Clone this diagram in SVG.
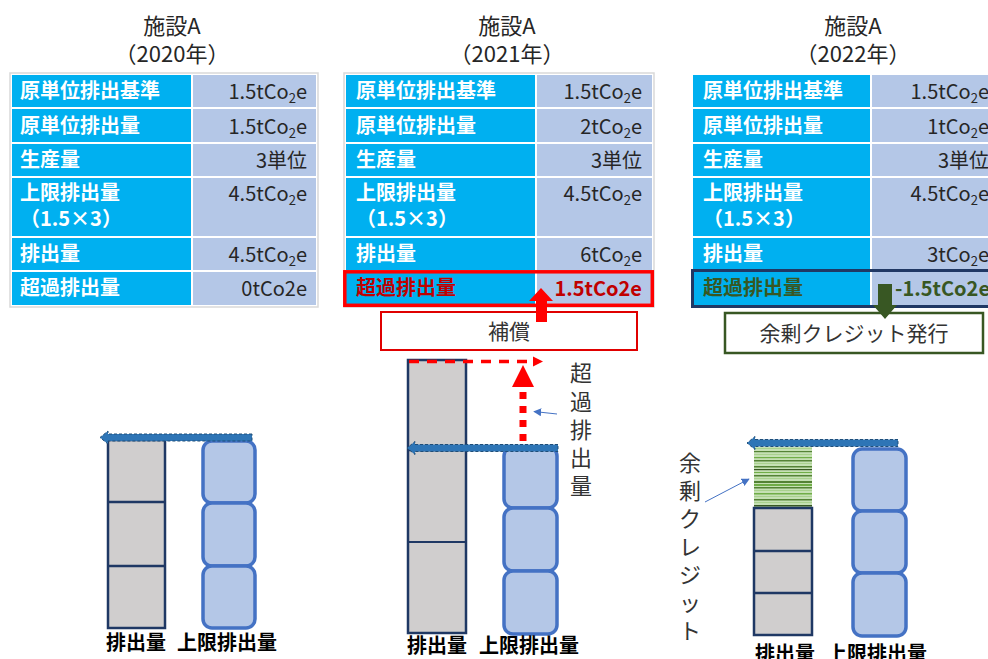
<svg xmlns="http://www.w3.org/2000/svg" width="988" height="659" viewBox="0 0 988 659">
<style>
text{font-family:"Noto Sans CJK JP","Noto Sans",sans-serif}
.ttl{font-size:22px;fill:#262626;text-anchor:middle}
.lbl{font-size:20px;font-weight:bold;fill:#fff}
.val{font-size:20px;fill:#262626;text-anchor:end}
.cL{fill:#00B0F0;stroke:#fff;stroke-width:2}
.cR{fill:#B4C7E7;stroke:#fff;stroke-width:2}
.frame{fill:none;stroke:#D9D9D9;stroke-width:1.5}
.gray{fill:#D0CECE;stroke:#1F3864;stroke-width:2.5}
.blk{fill:#B4C7E7;stroke:#4472C4;stroke-width:3.5}
.bl{font-size:20px;font-weight:bold;fill:#000;text-anchor:middle}
.vt{font-size:22px;fill:#333;text-anchor:middle}
.barr{fill:#2E75B6;stroke:#1F4E79;stroke-width:1;stroke-dasharray:3 2}
.thin{stroke:#4472C4;stroke-width:1;fill:none}
</style>
<defs>
<pattern id="hatch" patternUnits="userSpaceOnUse" width="10" height="61" x="754" y="447">
<rect width="10" height="61" fill="#C5E0B4"/>
<rect y="1" width="10" height="1" fill="#A9D18E"/>
<rect y="4" width="10" height="1.2" fill="#548235"/>
<rect y="7" width="10" height="1" fill="#A9D18E"/>
<rect y="10" width="10" height="1.2" fill="#70AD47"/>
<rect y="13" width="10" height="1.5" fill="#548235"/>
<rect y="16" width="10" height="1" fill="#A9D18E"/>
<rect y="19" width="10" height="1.5" fill="#548235"/>
<rect y="22" width="10" height="1.2" fill="#385723"/>
<rect y="25" width="10" height="1" fill="#70AD47"/>
<rect y="28" width="10" height="1.5" fill="#548235"/>
<rect y="31" width="10" height="1" fill="#A9D18E"/>
<rect y="34" width="10" height="2" fill="#548235"/>
<rect y="37" width="10" height="2" fill="#70AD47"/>
<rect y="40" width="10" height="1.5" fill="#548235"/>
<rect y="43" width="10" height="1" fill="#A9D18E"/>
<rect y="46" width="10" height="1.5" fill="#70AD47"/>
<rect y="49" width="10" height="1" fill="#A9D18E"/>
<rect y="52" width="10" height="1.5" fill="#548235"/>
<rect y="55" width="10" height="1" fill="#A9D18E"/>
<rect y="58" width="10" height="1.5" fill="#385723"/>
</pattern>
<marker id="ah" viewBox="0 0 10 10" refX="9" refY="5" markerWidth="8" markerHeight="8" orient="auto" markerUnits="userSpaceOnUse">
<path d="M0,0 L10,5 L0,10 z" fill="#4472C4"/>
</marker>
</defs>

<g id="table2020">
<text class="ttl" x="172" y="34">施設A</text>
<text class="ttl" x="172" y="62">（2020年）</text>
<rect class="cL" x="11" y="74" width="181" height="34"/><rect class="cR" x="192" y="74" width="125" height="34"/>
<rect class="cL" x="11" y="108" width="181" height="35"/><rect class="cR" x="192" y="108" width="125" height="35"/>
<rect class="cL" x="11" y="143" width="181" height="34"/><rect class="cR" x="192" y="143" width="125" height="34"/>
<rect class="cL" x="11" y="177" width="181" height="60"/><rect class="cR" x="192" y="177" width="125" height="60"/>
<rect class="cL" x="11" y="237" width="181" height="34"/><rect class="cR" x="192" y="237" width="125" height="34"/>
<rect class="cL" x="11" y="271" width="181" height="35"/><rect class="cR" x="192" y="271" width="125" height="35"/>
<rect class="frame" x="10" y="73" width="308" height="234"/>
<text class="lbl" x="20" y="98">原単位排出基準</text>
<text class="lbl" x="20" y="133">原単位排出量</text>
<text class="lbl" x="20" y="167">生産量</text>
<text class="lbl" x="20" y="200">上限排出量</text>
<text class="lbl" x="20" y="226">（1.5×3）</text>
<text class="lbl" x="20" y="261">排出量</text>
<text class="lbl" x="20" y="295">超過排出量</text>
<text class="val" x="307" y="99">1.5tCo<tspan font-size="13" dy="4">2</tspan><tspan dy="-4">e</tspan></text>
<text class="val" x="307" y="134">1.5tCo<tspan font-size="13" dy="4">2</tspan><tspan dy="-4">e</tspan></text>
<text class="val" x="307" y="168">3単位</text>
<text class="val" x="307" y="201">4.5tCo<tspan font-size="13" dy="4">2</tspan><tspan dy="-4">e</tspan></text>
<text class="val" x="307" y="262">4.5tCo<tspan font-size="13" dy="4">2</tspan><tspan dy="-4">e</tspan></text>
<text class="val" x="307" y="296">0tCo2e</text>
</g>

<g id="table2021">
<text class="ttl" x="507" y="34">施設A</text>
<text class="ttl" x="507" y="62">（2021年）</text>
<rect class="cL" x="345" y="74" width="191" height="34"/><rect class="cR" x="536" y="74" width="117" height="34"/>
<rect class="cL" x="345" y="108" width="191" height="35"/><rect class="cR" x="536" y="108" width="117" height="35"/>
<rect class="cL" x="345" y="143" width="191" height="34"/><rect class="cR" x="536" y="143" width="117" height="34"/>
<rect class="cL" x="345" y="177" width="191" height="60"/><rect class="cR" x="536" y="177" width="117" height="60"/>
<rect class="cL" x="345" y="237" width="191" height="34"/><rect class="cR" x="536" y="237" width="117" height="34"/>
<rect class="cL" x="345" y="271" width="191" height="35"/><rect class="cR" x="536" y="271" width="117" height="35"/>
<rect class="frame" x="344" y="73" width="310" height="234"/>
<text class="lbl" x="356" y="98">原単位排出基準</text>
<text class="lbl" x="356" y="133">原単位排出量</text>
<text class="lbl" x="356" y="167">生産量</text>
<text class="lbl" x="356" y="200">上限排出量</text>
<text class="lbl" x="356" y="226">（1.5×3）</text>
<text class="lbl" x="356" y="261">排出量</text>
<text class="lbl" x="356" y="295" style="fill:#C00000">超過排出量</text>
<text class="val" x="642" y="99">1.5tCo<tspan font-size="13" dy="4">2</tspan><tspan dy="-4">e</tspan></text>
<text class="val" x="642" y="134">2tCo<tspan font-size="13" dy="4">2</tspan><tspan dy="-4">e</tspan></text>
<text class="val" x="642" y="168">3単位</text>
<text class="val" x="642" y="201">4.5tCo<tspan font-size="13" dy="4">2</tspan><tspan dy="-4">e</tspan></text>
<text class="val" x="642" y="262">6tCo<tspan font-size="13" dy="4">2</tspan><tspan dy="-4">e</tspan></text>
<text class="val" x="642" y="296" style="fill:#C00000;font-weight:bold">1.5tCo2e</text>
<rect x="344.8" y="271.8" width="307.5" height="33.5" fill="none" stroke="#FF0000" stroke-width="3.5"/>
</g>

<g id="table2022">
<text class="ttl" x="853" y="34">施設A</text>
<text class="ttl" x="853" y="62">（2022年）</text>
<rect class="cL" x="692" y="74" width="179" height="34"/><rect class="cR" x="871" y="74" width="120" height="34"/>
<rect class="cL" x="692" y="108" width="179" height="35"/><rect class="cR" x="871" y="108" width="120" height="35"/>
<rect class="cL" x="692" y="143" width="179" height="34"/><rect class="cR" x="871" y="143" width="120" height="34"/>
<rect class="cL" x="692" y="177" width="179" height="60"/><rect class="cR" x="871" y="177" width="120" height="60"/>
<rect class="cL" x="692" y="237" width="179" height="34"/><rect class="cR" x="871" y="237" width="120" height="34"/>
<rect class="cL" x="692" y="271" width="179" height="35"/><rect class="cR" x="871" y="271" width="120" height="35"/>
<text class="lbl" x="703" y="98">原単位排出基準</text>
<text class="lbl" x="703" y="133">原単位排出量</text>
<text class="lbl" x="703" y="167">生産量</text>
<text class="lbl" x="703" y="200">上限排出量</text>
<text class="lbl" x="703" y="226">（1.5×3）</text>
<text class="lbl" x="703" y="261">排出量</text>
<text class="lbl" x="703" y="295" style="fill:#385723">超過排出量</text>
<text class="val" x="989" y="99">1.5tCo<tspan font-size="13" dy="4">2</tspan><tspan dy="-4">e</tspan></text>
<text class="val" x="989" y="134">1tCo<tspan font-size="13" dy="4">2</tspan><tspan dy="-4">e</tspan></text>
<text class="val" x="989" y="168">3単位</text>
<text class="val" x="989" y="201">4.5tCo<tspan font-size="13" dy="4">2</tspan><tspan dy="-4">e</tspan></text>
<text class="val" x="989" y="262">3tCo<tspan font-size="13" dy="4">2</tspan><tspan dy="-4">e</tspan></text>
<text class="val" x="990" y="296" style="fill:#385723;font-weight:bold">-1.5tCo2e</text>
<rect x="692.5" y="270.5" width="300" height="36" fill="none" stroke="#203864" stroke-width="3"/>
</g>

<g id="box-hosho">
<rect x="381" y="312" width="256" height="38" fill="#fff" stroke="#E00000" stroke-width="2"/>
<text x="509" y="339" style="font-size:21px;fill:#333;text-anchor:middle">補償</text>
</g>

<g id="box-credit">
<rect x="725" y="313" width="258" height="40" fill="#fff" stroke="#385723" stroke-width="2.5"/>
<text x="854" y="341" style="font-size:21px;fill:#333;text-anchor:middle">余剰クレジット発行</text>
</g>

<g id="chart2020">
<rect class="gray" x="108" y="440" width="57" height="188"/>
<line x1="108" y1="502" x2="165" y2="502" stroke="#1F3864" stroke-width="2.5"/>
<line x1="108" y1="566" x2="165" y2="566" stroke="#1F3864" stroke-width="2.5"/>
<rect class="blk" x="203" y="441" width="52" height="62" rx="9"/>
<rect class="blk" x="203" y="503" width="52" height="63" rx="9"/>
<rect class="blk" x="203" y="566" width="52" height="62" rx="9"/>
<text class="bl" x="136" y="650">排出量</text>
<text class="bl" x="227" y="650">上限排出量</text>
</g>

<g id="chart2021">
<rect class="gray" x="408" y="360" width="58" height="273"/>
<line x1="408" y1="450" x2="466" y2="450" stroke="#1F3864" stroke-width="2.5"/>
<line x1="408" y1="542" x2="466" y2="542" stroke="#1F3864" stroke-width="2"/>
<rect class="blk" x="504" y="447" width="53" height="61" rx="9"/>
<rect class="blk" x="504" y="508" width="53" height="63" rx="9"/>
<rect class="blk" x="504" y="571" width="53" height="63" rx="9"/>
<text class="bl" x="437" y="653">排出量</text>
<text class="bl" x="529" y="653">上限排出量</text>
<text class="vt" x="581" y="381">超</text>
<text class="vt" x="581" y="410">過</text>
<text class="vt" x="581" y="438">排</text>
<text class="vt" x="581" y="466">出</text>
<text class="vt" x="581" y="494">量</text>
</g>

<g id="chart2022">
<rect x="754" y="447" width="58" height="61" fill="url(#hatch)"/>
<rect class="gray" x="754" y="508" width="58" height="127"/>
<line x1="754" y1="551" x2="812" y2="551" stroke="#1F3864" stroke-width="2.5"/>
<line x1="754" y1="593" x2="812" y2="593" stroke="#1F3864" stroke-width="2.5"/>
<rect class="blk" x="853" y="449" width="53" height="62" rx="9"/>
<rect class="blk" x="853" y="511" width="53" height="62" rx="9"/>
<rect class="blk" x="853" y="573" width="53" height="63" rx="9"/>
<text class="bl" x="785" y="661">排出量</text>
<text class="bl" x="877" y="661">上限排出量</text>
<text class="vt" x="690" y="471">余</text>
<text class="vt" x="690" y="499">剰</text>
<text class="vt" x="690" y="527">ク</text>
<text class="vt" x="690" y="555">レ</text>
<text class="vt" x="690" y="583">ジ</text>
<text class="vt" x="690" y="611">ッ</text>
<text class="vt" x="690" y="639">ト</text>
</g>

<g id="connectors">
<polygon class="barr" points="252,434 108,434 108,431 100,437.5 108,444 108,441 252,441"/>
<polygon class="barr" points="558,444.5 415,444.5 415,441.5 407,448 415,454.5 415,451.5 558,451.5"/>
<polygon class="barr" points="898,439.5 755,439.5 755,436.5 747,443 755,449.5 755,446.5 898,446.5"/>
<polygon points="536,322 536,301 529,301 541,288 553,301 547,301 547,322" fill="#FF0000"/>
<polygon points="878,284 892,284 892,305 897,305 885,319 873,305 878,305" fill="#385723"/>
<line x1="409" y1="361.5" x2="534" y2="361.5" stroke="#FF0000" stroke-width="3.5" stroke-dasharray="10 8"/>
<polygon points="533,356.5 543,361.5 533,366.5" fill="#FF0000"/>
<line x1="523" y1="441" x2="523" y2="387" stroke="#FF0000" stroke-width="7" stroke-dasharray="7 7"/>
<polygon points="512,387 523,365 534,387" fill="#FF0000"/>
<line class="thin" x1="557" y1="414" x2="534" y2="411.5" marker-end="url(#ah)"/>
<line class="thin" x1="705" y1="502" x2="749" y2="479" marker-end="url(#ah)"/>
</g>
</svg>
